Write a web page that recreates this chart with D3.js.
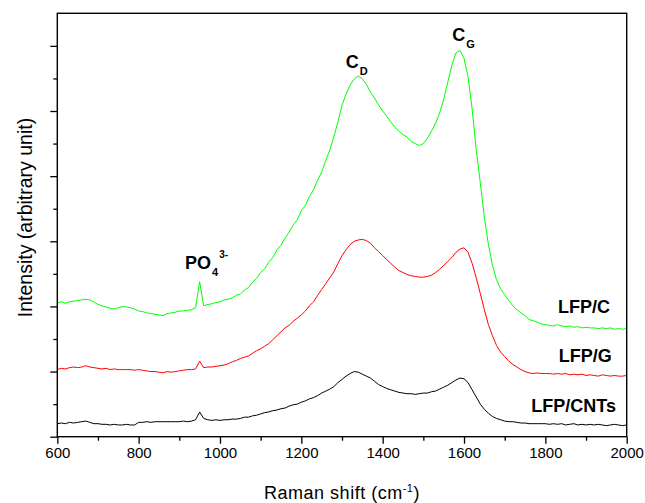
<!DOCTYPE html>
<html>
<head>
<meta charset="utf-8">
<script src="https://cdn.jsdelivr.net/npm/d3@7"></script>
<style>
  html, body { margin: 0; padding: 0; background: #fff; }
  svg { display: block; font-family: "Liberation Sans", Arial, Helvetica, sans-serif; }
</style>
</head>
<body>
<svg id="chart" width="645" height="503"></svg>
<script>
// Raman shift sampling grid (cm^-1), 10 cm^-1 steps
const shift = d3.range(600, 2001, 10);

// Intensities (arbitrary units, stacked offsets included)
const lfpC = [
  2.05, 2.07, 2.05, 2.07, 2.08, 2.09, 2.10, 2.11, 2.10, 2.07,
  2.03, 2.01, 1.99, 1.97, 1.96, 1.98, 2.00, 1.99, 1.98, 1.96,
  1.93, 1.92, 1.90, 1.89, 1.88, 1.87, 1.86, 1.89, 1.90, 1.91,
  1.93, 1.93, 1.94, 1.95, 1.98, 2.38, 2.01, 2.03, 2.04, 2.06,
  2.07, 2.10, 2.11, 2.13, 2.17, 2.19, 2.25, 2.29, 2.37, 2.43,
  2.52, 2.58, 2.68, 2.75, 2.87, 2.94, 3.05, 3.14, 3.25, 3.33,
  3.47, 3.55, 3.69, 3.79, 3.94, 4.06, 4.24, 4.40, 4.61, 4.83,
  5.09, 5.26, 5.40, 5.49, 5.54, 5.49, 5.41, 5.29, 5.20, 5.09,
  5.00, 4.92, 4.83, 4.75, 4.69, 4.64, 4.60, 4.53, 4.50, 4.47,
  4.50, 4.58, 4.69, 4.81, 4.97, 5.18, 5.44, 5.70, 5.89, 5.93,
  5.81, 5.52, 5.03, 4.41, 3.90, 3.37, 2.95, 2.63, 2.41, 2.27,
  2.18, 2.09, 2.01, 1.95, 1.90, 1.86, 1.80, 1.78, 1.76, 1.73,
  1.72, 1.71, 1.70, 1.72, 1.70, 1.69, 1.70, 1.68, 1.69, 1.67,
  1.68, 1.67, 1.67, 1.66, 1.67, 1.66, 1.67, 1.65, 1.66, 1.65,
  1.66
];
const lfpG = [
  1.03, 1.05, 1.04, 1.06, 1.07, 1.06, 1.07, 1.09, 1.07, 1.06,
  1.05, 1.04, 1.05, 1.03, 1.04, 1.03, 1.03, 1.03, 1.03, 1.02,
  1.03, 1.02, 1.01, 1.00, 1.00, 0.99, 0.98, 1.00, 0.99, 1.00,
  1.01, 1.02, 1.03, 1.03, 1.04, 1.16, 1.06, 1.07, 1.07, 1.08,
  1.09, 1.10, 1.12, 1.15, 1.17, 1.20, 1.22, 1.24, 1.28, 1.32,
  1.35, 1.39, 1.43, 1.49, 1.55, 1.61, 1.67, 1.71, 1.77, 1.82,
  1.87, 1.93, 2.01, 2.07, 2.17, 2.26, 2.35, 2.44, 2.53, 2.66,
  2.78, 2.87, 2.95, 3.00, 3.02, 3.03, 3.01, 2.97, 2.90, 2.84,
  2.78, 2.72, 2.66, 2.60, 2.55, 2.52, 2.49, 2.47, 2.46, 2.45,
  2.45, 2.46, 2.48, 2.52, 2.57, 2.63, 2.69, 2.75, 2.83, 2.88,
  2.90, 2.83, 2.66, 2.44, 2.20, 1.95, 1.72, 1.55, 1.40, 1.30,
  1.23, 1.16, 1.11, 1.07, 1.03, 1.00, 0.98, 0.97, 0.98, 0.97,
  0.97, 0.97, 0.96, 0.97, 0.96, 0.97, 0.95, 0.96, 0.95, 0.96,
  0.94, 0.95, 0.94, 0.93, 0.95, 0.94, 0.93, 0.94, 0.93, 0.93,
  0.94
];
const lfpCNTs = [
  0.20, 0.21, 0.20, 0.22, 0.21, 0.22, 0.23, 0.24, 0.22, 0.20,
  0.20, 0.19, 0.19, 0.18, 0.19, 0.18, 0.18, 0.19, 0.18, 0.18,
  0.22, 0.22, 0.23, 0.22, 0.23, 0.23, 0.23, 0.23, 0.23, 0.23,
  0.23, 0.24, 0.23, 0.24, 0.26, 0.38, 0.28, 0.26, 0.25, 0.26,
  0.25, 0.26, 0.26, 0.27, 0.27, 0.28, 0.30, 0.30, 0.32, 0.33,
  0.35, 0.37, 0.38, 0.40, 0.41, 0.43, 0.44, 0.47, 0.49, 0.50,
  0.53, 0.55, 0.58, 0.60, 0.63, 0.67, 0.70, 0.73, 0.77, 0.83,
  0.88, 0.93, 0.97, 1.00, 0.99, 0.96, 0.93, 0.90, 0.85, 0.80,
  0.77, 0.74, 0.72, 0.70, 0.68, 0.67, 0.66, 0.66, 0.65, 0.66,
  0.67, 0.67, 0.69, 0.70, 0.73, 0.76, 0.79, 0.83, 0.87, 0.90,
  0.89, 0.83, 0.72, 0.61, 0.50, 0.42, 0.36, 0.31, 0.28, 0.26,
  0.24, 0.23, 0.23, 0.22, 0.21, 0.21, 0.20, 0.20, 0.20, 0.20,
  0.20, 0.19, 0.20, 0.19, 0.20, 0.18, 0.19, 0.20, 0.18, 0.19,
  0.18, 0.19, 0.18, 0.19, 0.18, 0.17, 0.18, 0.19, 0.18, 0.17,
  0.18
];

const seriesNames = ["LFP/C", "LFP/G", "LFP/CNTs"];
const seriesColors = ["#00ff00", "#ff0000", "#000000"];
const xMajorTicks = [600, 800, 1000, 1200, 1400, 1600, 1800, 2000];
const xMinorTicks = [700, 900, 1100, 1300, 1500, 1700, 1900];
const yMajorTicks = [0, 1, 2, 3, 4, 5, 6];
const yMinorTicks = [0.5, 1.5, 2.5, 3.5, 4.5, 5.5];

const svg = d3.select("#chart");
const plot = { left: 57.3, right: 626.7, top: 13.3, bottom: 436.7 };

const x = d3.scaleLinear().domain([600, 2000]).range([plot.left, plot.right]);
const y = d3.scaleLinear().domain([0, 6.5]).range([plot.bottom, plot.top]);

// spectra
const line = d3.line().x(d => x(d[0])).y(d => y(d[1]));
const series = [lfpC, lfpG, lfpCNTs];
series.forEach((vals, i) => {
  svg.append("path")
    .datum(shift.map((s, k) => [s, vals[k]]))
    .attr("fill", "none")
    .attr("stroke", seriesColors[i])
    .attr("stroke-width", 1)
    .attr("stroke-linejoin", "round")
    .attr("d", line);
});

// x axis: labelled majors and short minors
const xAxis = svg.append("g").attr("transform", `translate(0,${plot.bottom})`)
  .call(d3.axisBottom(x).tickValues(xMajorTicks).tickSize(7).tickPadding(4).tickFormat(d3.format("d")));
xAxis.select(".domain").remove();
xAxis.selectAll("text").attr("font-size", 15).attr("fill", "#000")
  .attr("font-family", "'Liberation Sans', Arial, sans-serif");
xAxis.selectAll("line").attr("stroke-width", 1.3);
const xMinor = svg.append("g").attr("transform", `translate(0,${plot.bottom})`)
  .call(d3.axisBottom(x).tickValues(xMinorTicks).tickSize(4).tickFormat(""));
xMinor.select(".domain").remove();
xMinor.selectAll("line").attr("stroke-width", 1.3);

// y axis: unlabelled ticks
const yAxis = svg.append("g").attr("transform", `translate(${plot.left},0)`)
  .call(d3.axisLeft(y).tickValues(yMajorTicks).tickSize(7).tickFormat(""));
yAxis.select(".domain").remove();
yAxis.selectAll("line").attr("stroke-width", 1.3);
const yMinor = svg.append("g").attr("transform", `translate(${plot.left},0)`)
  .call(d3.axisLeft(y).tickValues(yMinorTicks).tickSize(4).tickFormat(""));
yMinor.select(".domain").remove();
yMinor.selectAll("line").attr("stroke-width", 1.3);

// frame
svg.append("rect")
  .attr("x", plot.left).attr("y", plot.top)
  .attr("width", plot.right - plot.left).attr("height", plot.bottom - plot.top)
  .attr("fill", "none").attr("stroke", "#000").attr("stroke-width", 1.4);

// axis titles
const xt = svg.append("text")
  .attr("x", (plot.left + plot.right) / 2).attr("y", 499)
  .attr("text-anchor", "middle").attr("font-size", 18).attr("letter-spacing", 0.5);
xt.append("tspan").text("Raman shift (cm");
xt.append("tspan").attr("dy", -7).attr("font-size", 11).text("-1");
xt.append("tspan").attr("dy", 7).text(")");

svg.append("text")
  .attr("transform", "translate(31.5,217.5) rotate(-90)")
  .attr("text-anchor", "middle").attr("font-size", 19.5)
  .text("Intensity (arbitrary unit)");

// series labels, right-aligned
const labelY = [313, 362.3, 411.7];
const labelRight = [610, 611.7, 616];
seriesNames.forEach((n, i) => {
  svg.append("text")
    .attr("x", labelRight[i]).attr("y", labelY[i])
    .attr("text-anchor", "end").attr("font-size", 18).attr("font-weight", "bold")
    .text(n);
});

// peak annotations
function peakLabel(px, py, main, sub, subDy, sup) {
  const t = svg.append("text").attr("x", px).attr("y", py)
    .attr("font-weight", "bold").attr("font-size", 18);
  t.append("tspan").text(main);
  t.append("tspan").attr("dx", 1).attr("dy", subDy).attr("font-size", 11).text(sub);
  if (sup) t.append("tspan").attr("dx", 1).attr("dy", -18).attr("font-size", 10).text(sup);
}
peakLabel(185, 269.3, "PO", "4", 6.7, "3-");
peakLabel(345.7, 68.3, "C", "D", 6.7);
peakLabel(452.3, 40.7, "C", "G", 7.6);
</script>
</body>
</html>
